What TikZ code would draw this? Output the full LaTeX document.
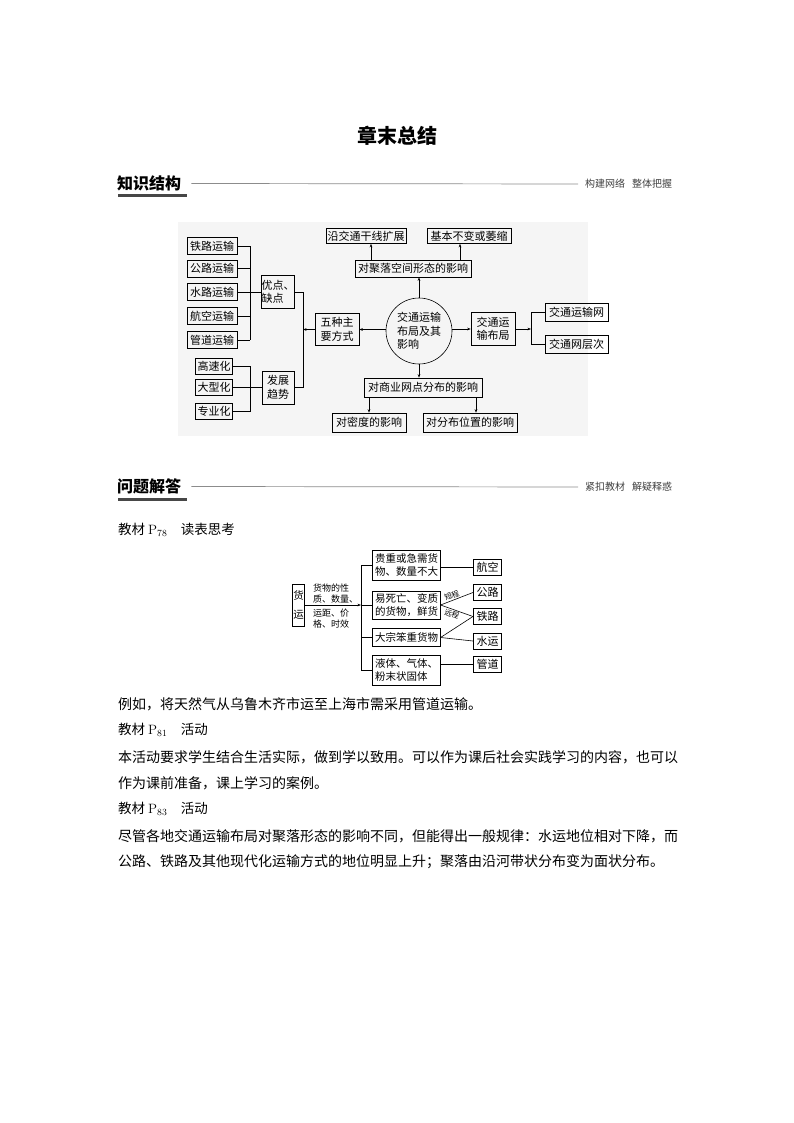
\documentclass[tikz,border=0pt]{standalone}
\usepackage{fontspec}
\newfontfamily\cjk{Noto Sans CJK SC}
\usetikzlibrary{arrows.meta,calc}
\tikzset{
  wh/.style 2 args={minimum width=#1, minimum height=#2},
  box/.style={draw, line width=0.6pt, inner sep=0pt, align=center, font=\cjk\fontsize{11}{13.5}\selectfont},
  boxs/.style={draw, line width=0.6pt, inner sep=0pt, align=left, font=\cjk\fontsize{10.5}{12.5}\selectfont},
  circ/.style={draw, line width=0.6pt, circle, minimum size=66, inner sep=0pt, align=left, font=\cjk\fontsize{11}{13.5}\selectfont},
  arr/.style={-{Stealth[length=3.5pt,width=2.6pt]}},
  conn/.style={line width=0.6pt},
  lab/.style={inner sep=0pt, align=left, font=\cjk\fontsize{9}{11}\selectfont},
  labs/.style={inner sep=0.3pt, font=\cjk\fontsize{7.5}{8.5}\selectfont},
  body/.style={anchor=west, inner sep=0pt, font=\cjk\fontsize{14}{16}\selectfont},
  bodyh/.style={anchor=west, inner sep=0pt, font=\cjk\fontsize{13.5}{16}\selectfont},
  hd/.style={anchor=west, inner sep=0pt, font=\cjk\bfseries\fontsize{16}{18}\selectfont},
  sub/.style={anchor=west, inner sep=0pt, text=black!75, font=\cjk\fontsize{10}{12}\selectfont},
  rule/.style={line width=0.7pt, black!45},
}
\begin{document}
\begin{tikzpicture}[x=1pt,y=-1pt]
\useasboundingbox (0,0) rectangle (794,1123);
\fill[white] (0,0) rectangle (794,1123);

% title
\node[inner sep=0pt, font=\cjk\bfseries\fontsize{20}{24}\selectfont] (title) at (397,136) {章末总结};

% header 1
\node[hd] (h1) at (117,183.5) {知识结构};
\fill[black!72] (118,194.5) rectangle (187,197.5);
\node[sub] (r1) at (585,184) {构建网络\hspace{0.7em}整体把握};
\draw[rule] ([xshift=10pt]h1.east) -- ([xshift=-7pt]r1.west);

% diagram 1 background
\fill[black!4] (178,222) rectangle (588,436);

\node[box, wh={50}{17}] (tl) at (212,246) {铁路运输};
\node[box, wh={50}{17}] (gl) at (212,268.5) {公路运输};
\node[box, wh={50}{17}] (sl) at (212,292) {水路运输};
\node[box, wh={50}{17}] (hk) at (212,316) {航空运输};
\node[box, wh={50}{17}] (gd) at (212,340) {管道运输};
\node[box, wh={37}{16}] (gs) at (214,366) {高速化};
\node[box, wh={37}{16}] (dx) at (214,387.5) {大型化};
\node[box, wh={37}{16}] (zy) at (214,411.5) {专业化};
\node[box, wh={32}{33}, align=left] (yd) at (278,292) {优点、\\缺点};
\node[box, wh={32}{33}, align=left] (fz) at (278,387.5) {发展\\趋势};
\node[box, wh={44}{32}, align=left] (wz) at (337,329.5) {五种主\\要方式};
\node[circ] (c) at (419,331) {交通运输\\布局及其\\影响};
\node[box, wh={44}{33}, align=left] (jb) at (493,329) {交通运\\输布局};
\node[box, wh={63}{18}] (jw) at (576.5,312.5) {交通运输网};
\node[box, wh={63}{18}] (jc) at (576.5,344) {交通网层次};
\node[box, wh={116}{17}] (jl) at (413,268.5) {对聚落空间形态的影响};
\node[box, wh={80}{15}] (yj) at (366,236) {沿交通干线扩展};
\node[box, wh={84}{15}] (jbb) at (469,236) {基本不变或萎缩};
\node[box, wh={118}{19}] (sy) at (423,387.5) {对商业网点分布的影响};
\node[box, wh={74}{19}] (md) at (369,422.5) {对密度的影响};
\node[box, wh={94}{19}] (fb) at (470,422.5) {对分布位置的影响};

\coordinate (b1) at (250,0);
\coordinate (b2) at (303,0);
\coordinate (b3) at (531,0);
\foreach \n in {tl,gl,sl,hk,gd,gs,dx,zy} \draw[conn] (\n.east) -- (\n.east -| b1);
\draw[conn] (tl.east -| b1) -- (gd.east -| b1);
\draw[conn] (sl.east -| b1) -- (yd.west);
\draw[conn] (gs.east -| b1) -- (zy.east -| b1);
\draw[conn] (dx.east -| b1) -- (fz.west);
\draw[conn] (yd.east) -- (yd.east -| b2) -- (fz.east -| b2) -- (fz.east);
\draw[conn,arr] (wz.west) -- (wz.west -| b2);
\draw[conn,arr] (c.west |- wz.east) -- (wz.east);
\draw[conn,arr] (c.east |- jb.west) -- (jb.west);
\draw[conn,arr] (jb.east) -- (jb.east -| b3);
\draw[conn] (jw.west) -- (jw.west -| b3) -- (jc.west -| b3) -- (jc.west);
\draw[conn,arr] (c.north) -- (c.north |- jl.south);
\path ([xshift=5pt]yj.south) coordinate (yjs);
\draw[conn,arr] (yjs |- jl.north) -- (yjs);
\path ([xshift=-9pt]jbb.south) coordinate (jbs);
\draw[conn,arr] (jbs |- jl.north) -- (jbs);
\draw[conn,arr] (c.south) -- (c.south |- sy.north);
\draw[conn,arr] (md.north |- sy.south) -- (md.north);
\path ([xshift=6pt]fb.north) coordinate (fbn);
\draw[conn,arr] (fbn |- sy.south) -- (fbn);

% header 2
\node[hd] (h2) at (117,486.5) {问题解答};
\fill[black!72] (118,497.5) rectangle (187,500.5);
\node[sub] (r2) at (585,487) {紧扣教材\hspace{0.7em}解疑释惑};
\draw[rule] ([xshift=10pt]h2.east) -- ([xshift=-7pt]r2.west);

\node[bodyh] (t1) at (118,530) {教材 {\rmfamily P\textsubscript{78}}\hspace{1em}读表思考};

% diagram 2
\node[boxs, wh={11.5}{42}, align=center] (hy) at (298.5,605) {货\\[6pt]运};
\node[lab, anchor=south west] (l1) at (313,603) {货物的性\\质、数量、};
\node[lab, anchor=north west] (l2) at (313,609) {运距、价\\格、时效};
\node[boxs, wh={67.5}{30}] (gz) at (406.5,565) {贵重或急需货\\物、数量不大};
\node[boxs, wh={67.5}{28}] (ys) at (406.5,605) {易死亡、变质\\的货物，鲜货};
\node[boxs, wh={67.5}{18}] (dz) at (406.5,637.5) {大宗笨重货物};
\node[boxs, wh={67.5}{30}] (yt) at (406.5,670) {液体、气体、\\粉末状固体};
\node[box, wh={28.5}{16}] (hk2) at (487.5,567) {航空};
\node[box, wh={28.5}{16}] (gl2) at (487.5,592.5) {公路};
\node[box, wh={28.5}{16}] (tl2) at (487.5,616.5) {铁路};
\node[box, wh={28.5}{16}] (sy2) at (487.5,641) {水运};
\node[box, wh={28.5}{16}] (gd2) at (487.5,664) {管道};

\coordinate (b4) at (361,0);
\draw[conn,arr] (hy.east) -- (hy.east -| b4);
\draw[conn] (gz.west -| b4) -- (yt.west -| b4);
\foreach \n in {gz,ys,dz,yt} \draw[conn] (\n.west -| b4) -- (\n.west);
\draw[conn] (gz.east |- hk2.west) -- (hk2.west);
\draw[conn] (ys.east) -- node[labs, sloped, above=0.8pt, pos=0.4] {短程} (gl2.west);
\draw[conn] (ys.east) -- node[labs, sloped, below=0.8pt, pos=0.4] {远程} (tl2.west);
\draw[conn] (dz.east) -- (tl2.west);
\draw[conn] (dz.east) -- (sy2.west);
\draw[conn] (yt.east |- gd2.west) -- (gd2.west);

% body text
\node[body] (t2) at (118,704) {例如，将天然气从乌鲁木齐市运至上海市需采用管道运输。};
\node[bodyh] (t3) at (118,730) {教材 {\rmfamily P\textsubscript{81}}\hspace{1em}活动};
\node[body] (t4) at (118,757) {本活动要求学生结合生活实际，做到学以致用。可以作为课后社会实践学习的内容，也可以};
\node[body] (t5) at (118,783) {作为课前准备，课上学习的案例。};
\node[bodyh] (t6) at (118,809) {教材 {\rmfamily P\textsubscript{83}}\hspace{1em}活动};
\node[body] (t7) at (118,836) {尽管各地交通运输布局对聚落形态的影响不同，但能得出一般规律：水运地位相对下降，而};
\node[body] (t8) at (118,862) {公路、铁路及其他现代化运输方式的地位明显上升；聚落由沿河带状分布变为面状分布。};
\end{tikzpicture}
\end{document}
